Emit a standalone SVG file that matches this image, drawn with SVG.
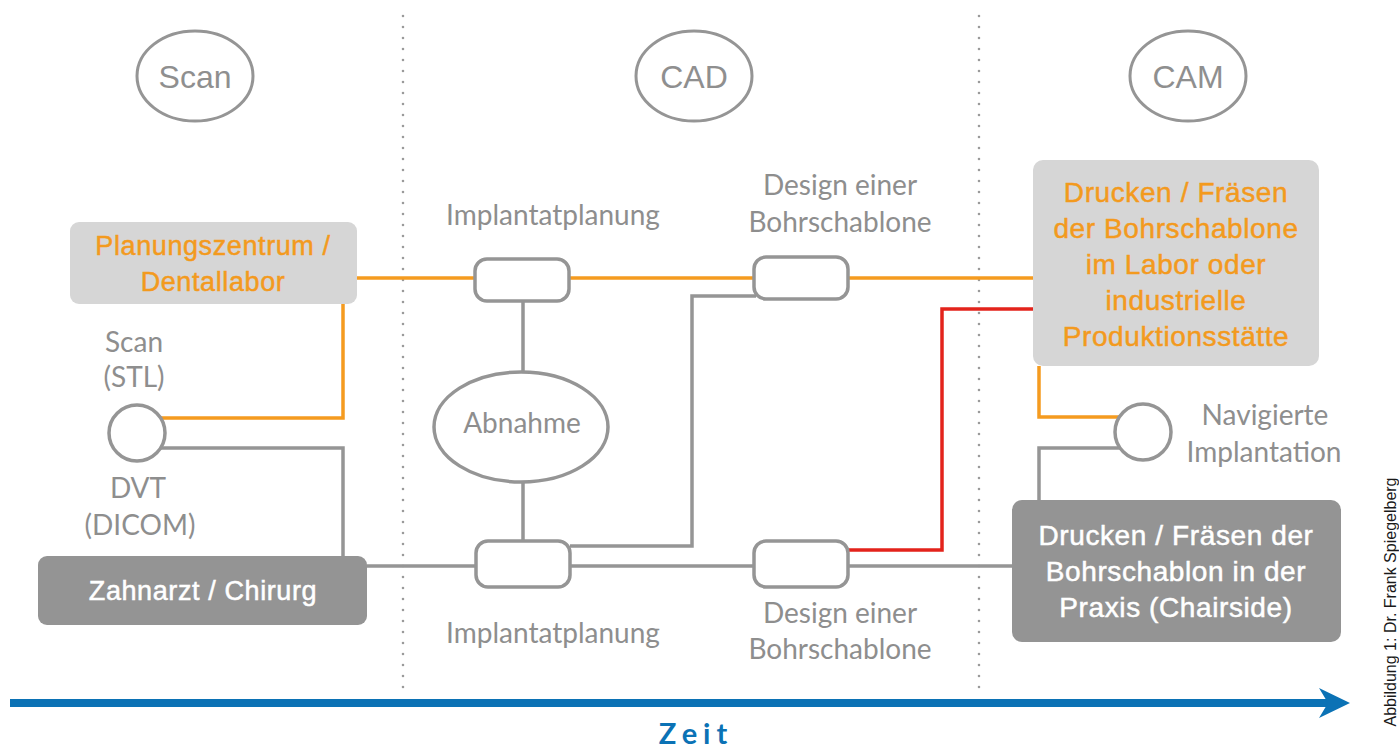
<svg xmlns="http://www.w3.org/2000/svg" width="1399" height="751" viewBox="0 0 1399 751">
<style>
.bg{fill:#ffffff}
.phase{fill:#ffffff;stroke:#959595;stroke-width:3}
.phaset{font-family:"Liberation Sans",Arial,sans-serif;font-size:32px;fill:#8f8f8f;text-anchor:middle}
.sep{stroke:#9a9a9a;stroke-width:2.6;stroke-linecap:round;stroke-dasharray:0 11;fill:none}
.lbl{font-family:Lato,"Open Sans",sans-serif;font-size:28px;fill:#8e8e8e;text-anchor:middle}
.step{fill:#ffffff;stroke:#959595;stroke-width:3.5}
.boxL{fill:#d6d6d6}
.boxD{fill:#949494}
.tO{font-family:"Liberation Sans",Arial,sans-serif;font-size:28px;fill:#f39a1e;stroke:#f39a1e;stroke-width:0.5;text-anchor:middle;letter-spacing:0.6px}
.tW{font-family:"Liberation Sans",Arial,sans-serif;font-size:28px;fill:#ffffff;stroke:#ffffff;stroke-width:0.5;text-anchor:middle;letter-spacing:0.6px}
.cg{fill:none;stroke:#959595;stroke-width:3.5}
.co{fill:none;stroke:#f59b1f;stroke-width:3.5}
.cr{fill:none;stroke:#e3231b;stroke-width:3.5}
</style>
<rect class="bg" x="0" y="0" width="1399" height="751"/>

<g id="separators">
<line class="sep" x1="403" y1="16" x2="403" y2="692"/>
<line class="sep" x1="979" y1="16" x2="979" y2="692"/>
</g>

<g id="phase-scan"><ellipse class="phase" cx="195" cy="76" rx="58" ry="45"/><text class="phaset" x="195" y="88">Scan</text></g>
<g id="phase-cad"><ellipse class="phase" cx="694" cy="76" rx="58" ry="45"/><text class="phaset" x="694" y="88">CAD</text></g>
<g id="phase-cam"><ellipse class="phase" cx="1188" cy="76" rx="58" ry="45"/><text class="phaset" x="1188" y="88">CAM</text></g>

<g id="connectors">
<path class="co" d="M357,278 H1033"/>
<path class="co" d="M161,418 H343 V304"/>
<path class="cg" d="M161,448 H343 V556"/>
<path class="cg" d="M367,566 H1012"/>
<path class="cg" d="M523,301 V371 M523,482 V541"/>
<path class="cg" d="M570,546 H692 V296 H756"/>
<path class="cr" d="M848,550 H942 V309 H1033"/>
<path class="co" d="M1039,366 V417 H1120"/>
<path class="cg" d="M1039,500 V448 H1120"/>
</g>

<g id="planungszentrum">
<rect class="boxL" x="70" y="222" width="287" height="82" rx="9"/>
<text class="tO" x="213" y="255" style="font-size:27px">Planungszentrum /</text>
<text class="tO" x="213" y="291" style="font-size:27px">Dentallabor</text>
</g>

<g id="scan-dvt">
<text class="lbl" x="134" y="352">Scan</text>
<text class="lbl" x="134" y="387">(STL)</text>
<circle cx="137" cy="433" r="28" fill="#ffffff" stroke="#959595" stroke-width="3.5"/>
<text class="lbl" x="138" y="498">DVT</text>
<text class="lbl" x="140" y="535">(DICOM)</text>
</g>

<g id="zahnarzt">
<rect class="boxD" x="38" y="556" width="329" height="69" rx="9"/>
<text class="tW" x="203" y="600" style="font-size:27px">Zahnarzt / Chirurg</text>
</g>

<g id="implantatplanung-top">
<text class="lbl" x="553" y="225">Implantatplanung</text>
<rect class="step" x="475" y="259" width="94" height="42" rx="12"/>
</g>

<g id="design-top">
<text class="lbl" x="840" y="195">Design einer</text>
<text class="lbl" x="840" y="232">Bohrschablone</text>
<rect class="step" x="754" y="257" width="94" height="42" rx="12"/>
</g>

<g id="abnahme">
<ellipse cx="521" cy="427" rx="87" ry="55" fill="#ffffff" stroke="#959595" stroke-width="3.5"/>
<text class="lbl" x="522" y="433">Abnahme</text>
</g>

<g id="implantatplanung-bottom">
<rect class="step" x="476" y="541" width="94" height="46" rx="12"/>
<text class="lbl" x="553" y="643">Implantatplanung</text>
</g>

<g id="design-bottom">
<rect class="step" x="754" y="541" width="94" height="46" rx="12"/>
<text class="lbl" x="840" y="623">Design einer</text>
<text class="lbl" x="840" y="659">Bohrschablone</text>
</g>

<g id="drucken-labor">
<rect class="boxL" x="1033" y="160" width="286" height="206" rx="10"/>
<text class="tO" x="1176" y="202">Drucken / Fräsen</text>
<text class="tO" x="1176" y="238">der Bohrschablone</text>
<text class="tO" x="1176" y="274">im Labor oder</text>
<text class="tO" x="1176" y="310">industrielle</text>
<text class="tO" x="1176" y="346">Produktionsstätte</text>
</g>

<g id="navigierte">
<circle cx="1143" cy="432" r="28" fill="#ffffff" stroke="#959595" stroke-width="3.5"/>
<text class="lbl" x="1265" y="425">Navigierte</text>
<text class="lbl" x="1264" y="462">Implantation</text>
</g>

<g id="drucken-praxis">
<rect class="boxD" x="1012" y="500" width="329" height="142" rx="10"/>
<text class="tW" x="1176" y="545">Drucken / Fräsen der</text>
<text class="tW" x="1176" y="581">Bohrschablon in der</text>
<text class="tW" x="1176" y="617">Praxis (Chairside)</text>
</g>

<g id="zeit">
<line x1="10" y1="703" x2="1330" y2="703" stroke="#0b72b5" stroke-width="8"/>
<polygon points="1350,703 1319,688 1328,703 1319,718" fill="#0b72b5"/>
<text x="696" y="744" font-family="Lato,'Open Sans',sans-serif" font-weight="bold" font-size="29" fill="#0b72b5" text-anchor="middle" letter-spacing="6">Zeit</text>
</g>

<g id="credit">
<text transform="translate(1396,602) rotate(-90)" font-family="'Liberation Sans',Arial,sans-serif" font-size="16" fill="#1a1a1a" text-anchor="middle">Abbildung 1: Dr. Frank Spiegelberg</text>
</g>
</svg>
